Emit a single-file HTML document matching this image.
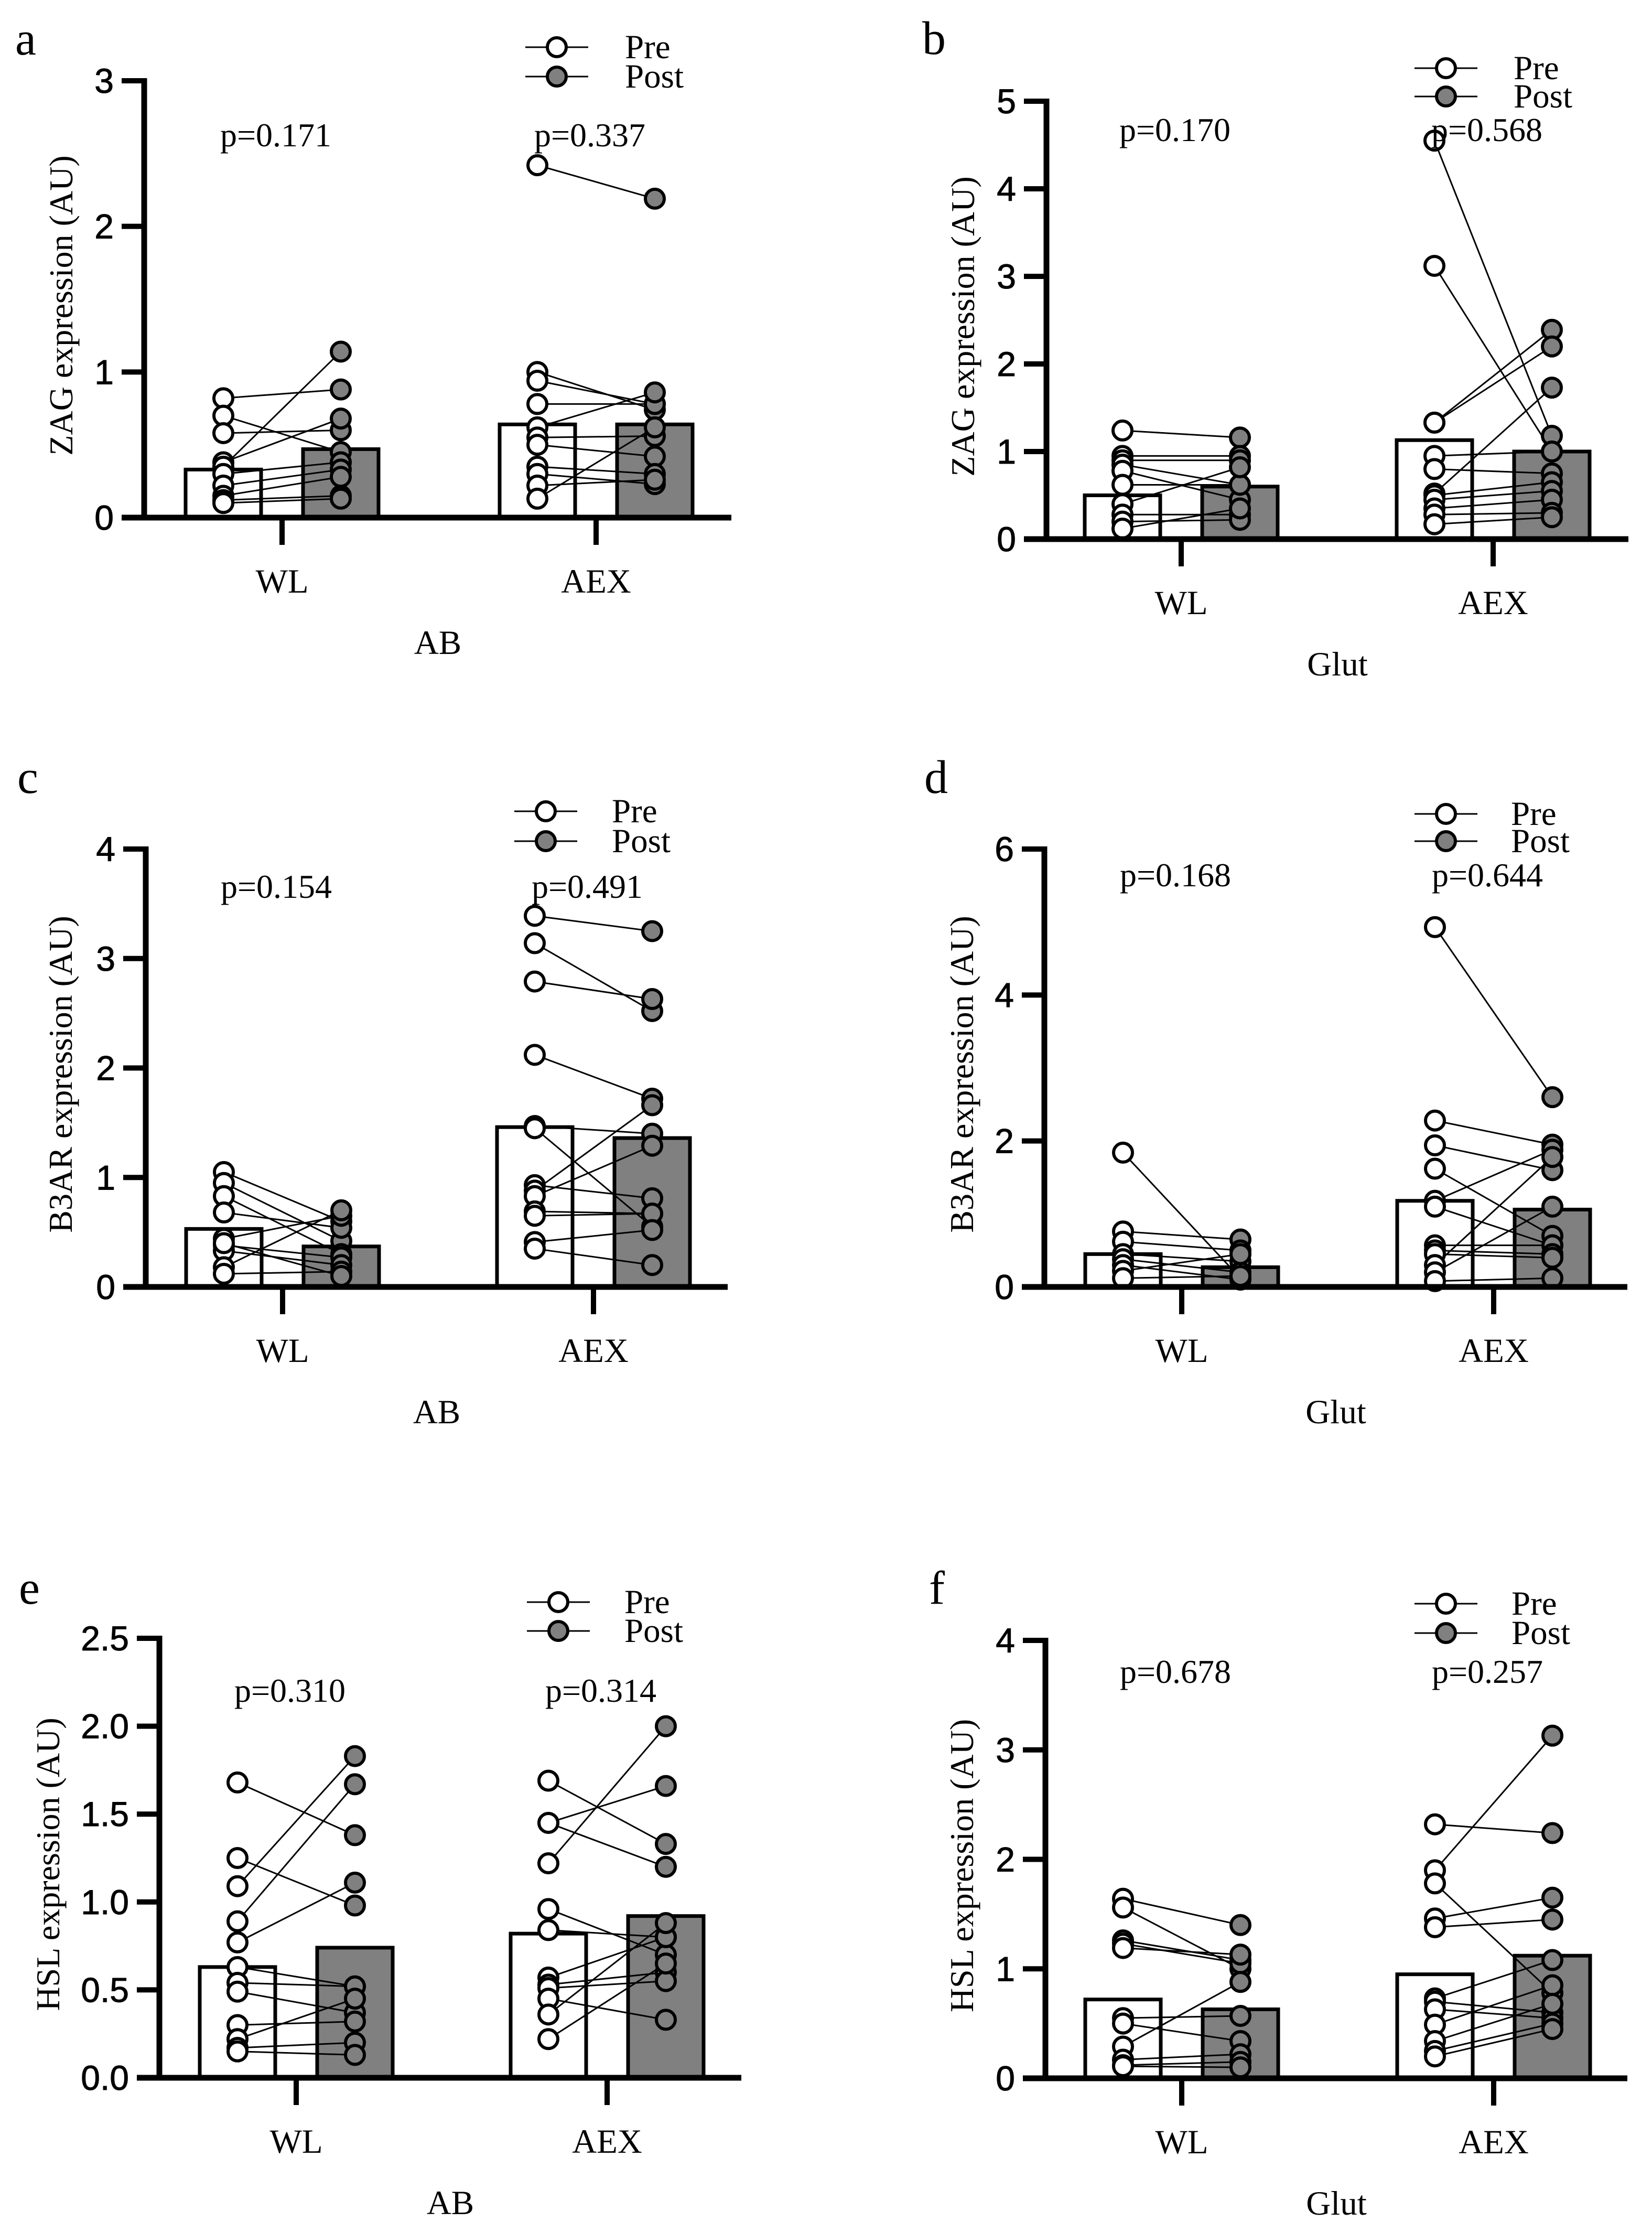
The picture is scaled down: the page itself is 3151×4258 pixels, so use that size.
<!DOCTYPE html>
<html><head><meta charset="utf-8"><style>
html,body{margin:0;padding:0;background:#fff;}
svg{display:block;}
.serif{font-family:"Liberation Serif",serif;}
.sans{font-family:"Liberation Sans",sans-serif;}
</style></head><body>
<svg id="fig" xmlns="http://www.w3.org/2000/svg" width="3151" height="4258" viewBox="0 0 3151 4258"></svg>
<script>
// ---- data ----
const categories = ["WL", "AEX"];
const aTicks = [0, 1, 2, 3];
const aTickLabels = ["0", "1", "2", "3"];
const aBars = [0.33, 0.47, 0.64, 0.64];
const aWLPre = [0.82, 0.70, 0.58, 0.38, 0.35, 0.30, 0.22, 0.15, 0.12, 0.10];
const aWLPost = [0.88, 0.45, 0.60, 0.68, 1.14, 0.38, 0.33, 0.28, 0.15, 0.13];
const aAEXPre = [2.42, 1.00, 0.94, 0.78, 0.62, 0.55, 0.50, 0.35, 0.30, 0.22, 0.13];
const aAEXPost = [2.19, 0.74, 0.78, 0.78, 0.86, 0.56, 0.42, 0.30, 0.23, 0.26, 0.62];
const aP = ["p=0.171", "p=0.337"];

const bTicks = [0, 1, 2, 3, 4, 5];
const bTickLabels = ["0", "1", "2", "3", "4", "5"];
const bBars = [0.50, 0.60, 1.13, 1.00];
const bWLPre = [1.24, 0.95, 0.90, 0.85, 0.78, 0.62, 0.40, 0.28, 0.20, 0.12];
const bWLPost = [1.16, 0.95, 0.90, 0.62, 0.45, 0.62, 0.82, 0.28, 0.22, 0.35];
const bAEXPre = [4.55, 3.12, 1.33, 1.33, 0.95, 0.80, 0.52, 0.50, 0.45, 0.35, 0.28, 0.17];
const bAEXPost = [1.18, 1.00, 2.39, 2.20, 1.00, 0.75, 1.73, 0.65, 0.55, 0.45, 0.30, 0.25];
const bP = ["p=0.170", "p=0.568"];

const cTicks = [0, 1, 2, 3, 4];
const cTickLabels = ["0", "1", "2", "3", "4"];
const cBars = [0.53, 0.37, 1.46, 1.36];
const cWLPre = [1.05, 0.95, 0.83, 0.68, 0.44, 0.38, 0.33, 0.18, 0.12, 0.40];
const cWLPost = [0.60, 0.42, 0.30, 0.54, 0.65, 0.27, 0.20, 0.70, 0.14, 0.10];
const cAEXPre = [3.39, 3.14, 2.79, 2.12, 1.47, 1.45, 0.93, 0.88, 0.83, 0.69, 0.65, 0.41, 0.35];
const cAEXPost = [3.25, 2.52, 2.63, 1.72, 1.40, 0.55, 0.81, 1.66, 1.29, 0.67, 0.67, 0.52, 0.20];
const cP = ["p=0.154", "p=0.491"];

const dTicks = [0, 2, 4, 6];
const dTickLabels = ["0", "2", "4", "6"];
const dBars = [0.45, 0.27, 1.18, 1.06];
const dWLPre = [1.84, 0.76, 0.62, 0.45, 0.38, 0.30, 0.22, 0.12];
const dWLPost = [0.12, 0.65, 0.50, 0.35, 0.20, 0.10, 0.45, 0.15];
const dAEXPre = [4.93, 2.28, 1.94, 1.62, 1.18, 1.10, 0.57, 0.50, 0.45, 0.30, 0.20, 0.08];
const dAEXPost = [2.60, 1.95, 1.60, 0.70, 1.88, 0.57, 0.57, 0.45, 0.40, 1.78, 1.10, 0.12];
const dP = ["p=0.168", "p=0.644"];

const eTicks = [0, 0.5, 1, 1.5, 2, 2.5];
const eTickLabels = ["0.0", "0.5", "1.0", "1.5", "2.0", "2.5"];
const eBars = [0.63, 0.74, 0.82, 0.92];
const eWLPre = [1.68, 1.25, 1.09, 0.89, 0.77, 0.63, 0.54, 0.49, 0.30, 0.22, 0.17, 0.15];
const eWLPost = [1.38, 0.98, 1.83, 1.67, 1.11, 0.52, 0.52, 0.37, 0.32, 0.45, 0.20, 0.13];
const eAEXPre = [1.69, 1.45, 1.45, 1.22, 0.96, 0.84, 0.57, 0.53, 0.51, 0.45, 0.36, 0.22];
const eAEXPost = [1.33, 1.66, 1.20, 2.00, 0.70, 0.80, 0.80, 0.60, 0.55, 0.33, 0.88, 0.65];
const eP = ["p=0.310", "p=0.314"];

const fTicks = [0, 1, 2, 3, 4];
const fTickLabels = ["0", "1", "2", "3", "4"];
const fBars = [0.72, 0.63, 0.95, 1.12];
const fWLPre = [1.64, 1.56, 1.26, 1.23, 1.19, 0.55, 0.50, 0.29, 0.17, 0.12, 0.11];
const fWLPost = [1.40, 1.00, 1.08, 1.05, 1.13, 0.57, 0.34, 0.88, 0.22, 0.15, 0.10];
const fAEXPre = [2.32, 1.90, 1.78, 1.46, 1.38, 0.73, 0.70, 0.63, 0.49, 0.34, 0.25, 0.20];
const fAEXPost = [2.24, 3.13, 0.78, 1.65, 1.45, 1.08, 0.60, 0.55, 0.85, 0.68, 0.50, 0.45];
const fP = ["p=0.678", "p=0.257"];

// ---- layout ----
const panels = [
 {id:"a", ax:275, y0:987, yTop:154, max:3, right:1395, ticksX:[538,1137], ticks:aTicks, labels:aTickLabels, bars:aBars, wl:[aWLPre,aWLPost], aex:[aAEXPre,aAEXPost], p:aP, pY:279, ytitle:"ZAG expression (AU)", tX:116, group:"AB", leg:[1062,90,146,1192], letter:[29,104]},
 {id:"b", ax:1996, y0:1028, yTop:193, max:5, right:3106, ticksX:[2253,2848], ticks:bTicks, labels:bTickLabels, bars:bBars, wl:[bWLPre,bWLPost], aex:[bAEXPre,bAEXPost], p:bP, pY:269, ytitle:"ZAG expression (AU)", tX:1836, group:"Glut", leg:[2758,130,184,2887], letter:[1759,103]},
 {id:"c", ax:278, y0:2454, yTop:1619, max:4, right:1388, ticksX:[539,1132], ticks:cTicks, labels:cTickLabels, bars:cBars, wl:[cWLPre,cWLPost], aex:[cAEXPre,cAEXPost], p:cP, pY:1712, ytitle:"B3AR expression (AU)", tX:115, group:"AB", leg:[1041,1547,1604,1167], letter:[33,1512]},
 {id:"d", ax:1992, y0:2454, yTop:1619, max:6, right:3104, ticksX:[2254,2849], ticks:dTicks, labels:dTickLabels, bars:dBars, wl:[dWLPre,dWLPost], aex:[dAEXPre,dAEXPost], p:dP, pY:1690, ytitle:"B3AR expression (AU)", tX:1834, group:"Glut", leg:[2758,1552,1604,2882], letter:[1763,1512]},
 {id:"e", ax:304, y0:3962, yTop:3124, max:2.5, right:1414, ticksX:[565,1158], ticks:eTicks, labels:eTickLabels, bars:eBars, wl:[eWLPre,eWLPost], aex:[eAEXPre,eAEXPost], p:eP, pY:3245, ytitle:"HSL expression (AU)", tX:91, group:"AB", leg:[1065,3055,3110,1191], letter:[36,3058]},
 {id:"f", ax:1994, y0:3963, yTop:3128, max:4, right:3104, ticksX:[2254,2849], ticks:fTicks, labels:fTickLabels, bars:fBars, wl:[fWLPre,fWLPost], aex:[fAEXPre,fAEXPost], p:fP, pY:3209, ytitle:"HSL expression (AU)", tX:1834, group:"Glut", leg:[2758,3058,3114,2883], letter:[1772,3058]}
];
const NS = "http://www.w3.org/2000/svg";
const svg = document.getElementById("fig");
function mk(tag, attrs, parent){
  const e = document.createElementNS(NS, tag);
  for (const k in attrs) e.setAttribute(k, attrs[k]);
  (parent||svg).appendChild(e);
  return e;
}
const GRAY = "#808080";
panels.forEach(P => {
  const g = mk("g", {});
  
  
  const yS = v => P.y0 - (v / P.max) * (P.y0 - P.yTop);
  const L = mk("text", {x:P.letter[0], y:P.letter[1], "font-size":90, class:"serif"}, g);
  L.textContent = P.id;
  
  
  const groups = [P.wl, P.aex];
  groups.forEach((grp, gi) => {
    [0,1].forEach(si => {
      const cx = P.ticksX[gi] + (si === 0 ? -112 : 112);
      const v = P.bars[gi*2+si];
      const b = mk("rect", {x:cx-72, y:yS(v), width:144, height:P.y0 - yS(v), fill: si===0 ? "#fff" : GRAY, stroke:"#000", "stroke-width":7}, g);
      
      
    });
  });
  groups.forEach((grp, gi) => {
    const xPre = P.ticksX[gi] - 112, xPost = P.ticksX[gi] + 112;
    const n = Math.min(grp[0].length, grp[1].length);
    for (let i = 0; i < n; i++) {
      const l = mk("line", {x1:xPre, y1:yS(grp[0][i]), x2:xPost, y2:yS(grp[1][i]), stroke:"#000", "stroke-width":3}, g);
      
      
    }
  });
  groups.forEach((grp, gi) => {
    [0,1].forEach(si => {
      const cx = P.ticksX[gi] + (si === 0 ? -112 : 112);
      grp[si].forEach(v => {
        const c = mk("circle", {cx:cx, cy:yS(v), r:18, fill: si===0 ? "#fff" : GRAY, stroke:"#000", "stroke-width":6}, g);
        
        
      });
    });
  });
  const ya = mk("line", {x1:P.ax, y1:P.yTop-5, x2:P.ax, y2:P.y0+5, stroke:"#000", "stroke-width":11}, g);
  
  
  const xa = mk("line", {x1:P.ax-43, y1:P.y0, x2:P.right, y2:P.y0, stroke:"#000", "stroke-width":11}, g);
  
  
  P.ticks.forEach((t, i) => {
    const tl = mk("line", {x1:P.ax-43, y1:yS(t), x2:P.ax, y2:yS(t), stroke:"#000", "stroke-width":10}, g);
    
    
    const tx = mk("text", {x:P.ax-58, y:yS(t)+23, "font-size":66, "text-anchor":"end", class:"sans", stroke:"#000", "stroke-width":1}, g);
    tx.textContent = P.labels[i];
    
    
  });
  P.ticksX.forEach((x, i) => {
    const tl = mk("line", {x1:x, y1:P.y0, x2:x, y2:P.y0+52, stroke:"#000", "stroke-width":10}, g);
    
    
    const tx = mk("text", {x:x, y:P.y0+143, "font-size":65, "text-anchor":"middle", class:"serif"}, g);
    tx.textContent = categories[i];
    
    
    const pt = mk("text", {x:x-12, y:P.pY, "font-size":64, "text-anchor":"middle", class:"serif"}, g);
    pt.textContent = P.p[i];
    
    
  });
  const gt = mk("text", {x:(P.ax+P.right)/2, y:P.y0+260, "font-size":65, "text-anchor":"middle", class:"serif"}, g);
  gt.textContent = P.group;
  
  
  const cy = (P.y0 + P.yTop)/2 + 12;
  const yt = mk("text", {x:0, y:0, "font-size":64, "text-anchor":"middle", class:"serif", transform:"translate(" + (P.tX+22) + "," + cy + ") rotate(-90)"}, g);
  yt.textContent = P.ytitle;
  
  
  const [lx, ly1, ly2, ltx] = P.leg;
  [[ly1, "#fff", "Pre"], [ly2, GRAY, "Post"]].forEach(([ly, fill, name]) => {
    const ll = mk("line", {x1:lx-60, y1:ly, x2:lx+60, y2:ly, stroke:"#000", "stroke-width":3}, g);
    
    
    const lc = mk("circle", {cx:lx, cy:ly, r:18, fill:fill, stroke:"#000", "stroke-width":6}, g);
    
    
    const lt = mk("text", {x:ltx, y:ly+21, "font-size":65, class:"serif"}, g);
    lt.textContent = name;
    
    
  });
});
</script>
</body></html>
